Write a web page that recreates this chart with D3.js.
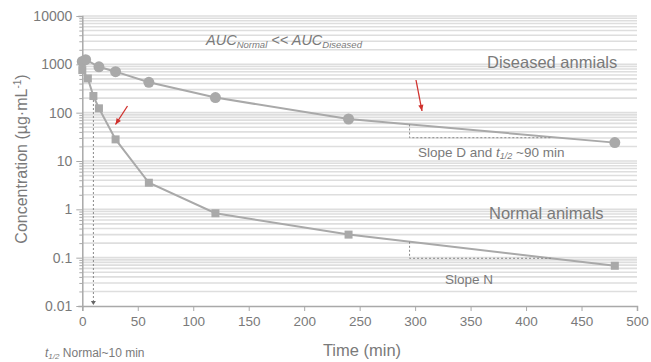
<!DOCTYPE html>
<html><head><meta charset="utf-8">
<script src="https://cdn.jsdelivr.net/npm/d3@7"></script>
<style>body{margin:0;background:#fff}svg{display:block;font-family:Arial,"Liberation Sans",sans-serif}</style>
</head><body><div id="chart"></div>
<script>
// ---- data ----
const diseasedTime = [0, 3, 15, 30, 60, 120, 240, 480];
const diseasedConc = [1150, 1250, 890, 705, 425, 205, 74, 24];
const normalTime = [0, 5, 10, 15, 30, 60, 120, 240, 480];
const normalConc = [760, 510, 221, 123, 28, 3.55, 0.83, 0.30, 0.068];
const xTicks = [0, 50, 100, 150, 200, 250, 300, 350, 400, 450, 500];
const yTicks = [0.01, 0.1, 1, 10, 100, 1000, 10000];
const yTickLabels = ["0.01", "0.1", "1", "10", "100", "1000", "10000"];
const halfLifeNormal = 10;
const slopeD = {t0: 295, t1: 423, c0: 57, c1: 30.3};
const slopeN = {t0: 295, t1: 423, c0: 0.213, c1: 0.097};

const W = 651, H = 362;
const svg = d3.select("#chart").append("svg").attr("width", W).attr("height", H);
const x = d3.scaleLinear().domain([0, 500]).range([82.3, 637]);
const y = d3.scaleLog().domain([0.01, 10000]).range([306, 16]);

const grey = "#a9a9a9", txt = "#7a7a7a";

// grid lines at every minor log value
const gridVals = [];
for (let e = -2; e < 4; e++) for (let m = 1; m <= 9; m++) gridVals.push(m * Math.pow(10, e));
gridVals.push(10000);
svg.append("g").selectAll("line").data(gridVals.filter(v => v > 0.01)).join("line")
  .attr("x1", x(0)).attr("x2", x(500))
  .attr("y1", d => y(d)).attr("y2", d => y(d))
  .attr("stroke", "#dedede").attr("stroke-width", 1.6);

// y axis
const yAxis = d3.axisLeft(y).tickValues(gridVals).tickSize(4)
  .tickFormat(d => { const i = yTicks.findIndex(v => Math.abs(v - d) / v < 1e-6); return i >= 0 ? yTickLabels[i] : ""; });
const gy = svg.append("g").attr("transform", `translate(${x(0)},0)`).call(yAxis);
gy.select(".domain").attr("stroke", grey).attr("stroke-width", 1.5);
gy.selectAll(".tick line").attr("stroke", grey)
  .attr("x2", d => yTicks.some(v => Math.abs(v - d) / v < 1e-6) ? -6 : -3);
gy.selectAll(".tick text").attr("fill", txt).attr("font-size", 14).attr("x", -10)
  .attr("font-family", "Arial, 'Liberation Sans', sans-serif");

// x axis
const xAxis = d3.axisBottom(x).tickValues(xTicks).tickSize(5).tickFormat(d3.format("d"));
const gx = svg.append("g").attr("transform", `translate(0,${y(0.01)})`).call(xAxis);
gx.select(".domain").attr("stroke", grey).attr("stroke-width", 1.5);
gx.selectAll(".tick line").attr("stroke", grey);
gx.selectAll(".tick text").attr("fill", txt).attr("font-size", 13.5).attr("dy", "0.9em")
  .attr("font-family", "Arial, 'Liberation Sans', sans-serif");

// lines
const line = d3.line().x(d => x(d[0])).y(d => y(d[1]));
const dData = diseasedTime.map((t, i) => [t, diseasedConc[i]]);
const nData = normalTime.map((t, i) => [t, normalConc[i]]);
svg.append("path").attr("d", line(dData)).attr("fill", "none").attr("stroke", grey).attr("stroke-width", 2);
svg.append("path").attr("d", line(nData)).attr("fill", "none").attr("stroke", grey).attr("stroke-width", 2);

// markers
svg.append("g").selectAll("circle").data(dData).join("circle")
  .attr("cx", d => x(d[0])).attr("cy", d => y(d[1])).attr("r", 5.5).attr("fill", grey);
svg.append("g").selectAll("rect").data(nData).join("rect")
  .attr("x", d => x(d[0]) - 4).attr("y", d => y(d[1]) - 4).attr("width", 8).attr("height", 8).attr("fill", grey);

// half-life dotted line with arrow
const dash = "2,2";
svg.append("line").attr("x1", x(halfLifeNormal)).attr("x2", x(halfLifeNormal))
  .attr("y1", y(221) + 4).attr("y2", y(0.01) - 4)
  .attr("stroke", "#888").attr("stroke-width", 1).attr("stroke-dasharray", dash);
svg.append("path")
  .attr("d", `M${x(halfLifeNormal) - 2.5},${y(0.01) - 5} L${x(halfLifeNormal) + 2.5},${y(0.01) - 5} L${x(halfLifeNormal)},${y(0.01) - 1} Z`)
  .attr("fill", "#666");

// slope triangles
[slopeD, slopeN].forEach(s => {
  svg.append("path")
    .attr("d", `M${x(s.t0)},${y(s.c0)} L${x(s.t0)},${y(s.c1)} L${x(s.t1)},${y(s.c1)}`)
    .attr("fill", "none").attr("stroke", "#888").attr("stroke-width", 1).attr("stroke-dasharray", dash);
});

// red arrows
function redArrow(x1, y1, x2, y2) {
  svg.append("line").attr("x1", x1).attr("y1", y1).attr("x2", x2).attr("y2", y2)
    .attr("stroke", "#d0312d").attr("stroke-width", 1.3);
  const a = Math.atan2(y2 - y1, x2 - x1), L = 6, w = 2.6;
  const bx = x2 - L * Math.cos(a), by = y2 - L * Math.sin(a);
  svg.append("path").attr("d",
    `M${x2},${y2} L${bx - w * Math.sin(a)},${by + w * Math.cos(a)} L${bx + w * Math.sin(a)},${by - w * Math.cos(a)} Z`)
    .attr("fill", "#d0312d");
}
redArrow(127.5, 106, 115.5, 124.5);
redArrow(416, 80, 422, 111);

// texts
const T = (xx, yy, s, size, anchor) => svg.append("text").attr("x", xx).attr("y", yy)
  .attr("font-size", size).attr("fill", txt).attr("text-anchor", anchor || "start").text(s);
T(487, 68, "Diseased anmials", 16.5);
T(489, 219, "Normal animals", 16.5);
const sd = svg.append("text").attr("x", 418).attr("y", 157).attr("font-size", 13.5).attr("fill", txt);
sd.append("tspan").text("Slope D and ");
sd.append("tspan").attr("font-style", "italic").text("t");
sd.append("tspan").attr("font-style", "italic").attr("font-size", 9).attr("dy", 2).text("1/2");
sd.append("tspan").attr("dy", -2).text(" ~90 min");
T(445, 284, "Slope N", 13.5);

const auc = svg.append("text").attr("x", 206).attr("y", 45).attr("font-size", 14.5).attr("fill", txt).attr("font-style", "italic");
auc.append("tspan").text("AUC");
auc.append("tspan").attr("font-size", 9.5).attr("dy", 3).text("Normal");
auc.append("tspan").attr("dy", -3).text(" <<  AUC");
auc.append("tspan").attr("font-size", 9.5).attr("dy", 3).text("Diseased");

const hl = svg.append("text").attr("x", 45).attr("y", 357).attr("font-size", 12).attr("fill", txt);
hl.append("tspan").attr("font-style", "italic").text("t");
hl.append("tspan").attr("font-style", "italic").attr("font-size", 8).attr("dy", 2).text("1/2");
hl.append("tspan").attr("dy", -2).text(" Normal~10 min");

T(362, 356, "Time (min)", 16.5, "middle");
const yl = svg.append("text").attr("transform", "translate(27,159) rotate(-90)")
  .attr("text-anchor", "middle").attr("font-size", 16).attr("fill", txt);
yl.append("tspan").text("Concentration (µg·mL");
yl.append("tspan").attr("font-size", 10).attr("dy", -6).text("-1");
yl.append("tspan").attr("dy", 6).text(")");
</script></body></html>
